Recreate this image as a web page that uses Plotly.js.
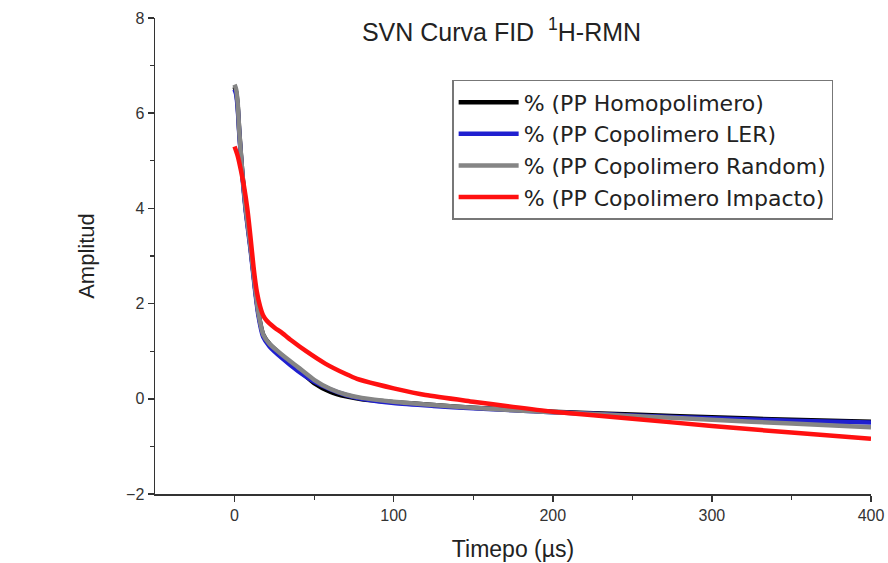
<!DOCTYPE html>
<html>
<head>
<meta charset="utf-8">
<script src="https://cdn.plot.ly/plotly-3.0.1.min.js"></script>
<style>html,body{margin:0;padding:0;background:#fff;}#chart{width:888px;height:563px;}</style>
</head>
<body>
<div id="chart"></div>
<script>
// Series names
const seriesNames = ["% (PP Homopolimero)", "% (PP Copolimero LER)", "% (PP Copolimero Random)", "% (PP Copolimero Impacto)"];

// Time (µs) and amplitude values
const tHomo = [0, 1, 2, 3, 5, 7, 10, 13, 15, 18, 22, 30, 40, 50, 60, 70, 80, 100, 125, 150, 175, 200, 250, 300, 350, 400];
const aHomo = [6.55, 6.45, 6.15, 5.6, 4.7, 4.0, 3.2, 2.3, 1.8, 1.35, 1.15, 0.9, 0.62, 0.33, 0.15, 0.05, -0.01, -0.07, -0.13, -0.19, -0.23, -0.27, -0.33, -0.39, -0.44, -0.48];

const tLER = [0, 1, 2, 3, 5, 7, 10, 13, 15, 18, 22, 30, 40, 50, 60, 70, 80, 100, 125, 150, 175, 200, 250, 300, 350, 400];
const aLER = [6.5, 6.4, 6.1, 5.55, 4.65, 3.95, 3.15, 2.25, 1.75, 1.3, 1.1, 0.85, 0.58, 0.36, 0.2, 0.08, 0.0, -0.09, -0.15, -0.2, -0.24, -0.28, -0.35, -0.41, -0.46, -0.5];

const tRandom = [0, 1, 2, 3, 5, 7, 10, 13, 15, 18, 22, 30, 40, 50, 60, 70, 80, 100, 125, 150, 175, 200, 250, 300, 350, 400];
const aRandom = [6.6, 6.5, 6.2, 5.6, 4.7, 4.0, 3.2, 2.3, 1.8, 1.35, 1.15, 0.92, 0.66, 0.4, 0.21, 0.09, 0.02, -0.06, -0.13, -0.19, -0.24, -0.28, -0.36, -0.44, -0.52, -0.6];

const tImpacto = [0, 2, 4, 6, 8, 10, 12, 14, 16, 18, 20, 25, 30, 36, 45, 57, 70, 77, 90, 100, 120, 150, 175, 200, 250, 300, 350, 400];
const aImpacto = [5.3, 5.1, 4.8, 4.45, 4.0, 3.4, 2.75, 2.25, 1.95, 1.75, 1.65, 1.5, 1.38, 1.22, 1.0, 0.74, 0.52, 0.42, 0.3, 0.22, 0.08, -0.06, -0.17, -0.27, -0.42, -0.57, -0.71, -0.84];

const colors = ["#000000", "#1f1fd0", "#858585", "#ff1010"];

const xs = [tHomo, tLER, tRandom, tImpacto];
const ys = [aHomo, aLER, aRandom, aImpacto];

const traces = xs.map((x, i) => ({
  type: "scatter",
  mode: "lines",
  x: x,
  y: ys[i],
  name: seriesNames[i],
  line: {color: colors[i], width: 4.5, shape: "spline", smoothing: 0.6}
}));

const fontFam = "Liberation Sans, Arial, sans-serif";

const layout = {
  width: 888,
  height: 563,
  margin: {l: 155, r: 17, t: 18, b: 69},
  paper_bgcolor: "#ffffff",
  plot_bgcolor: "#ffffff",
  font: {family: fontFam, color: "#222"},
  title: {
    text: "SVN Curva FID  <sup>1</sup>H-RMN",
    font: {size: 25, family: fontFam, color: "#222"},
    x: 0.484, xref: "paper", xanchor: "center",
    y: 0.943, yref: "container", yanchor: "middle"
  },
  xaxis: {
    range: [-50, 400],
    tickvals: [0, 100, 200, 300, 400],
    ticks: "outside", ticklen: 6, tickwidth: 1.5, tickcolor: "#333",
    minor: {tickvals: [50, 150, 250, 350], ticks: "outside", ticklen: 4, tickcolor: "#333", tickwidth: 1.2},
    showline: true, linecolor: "#333", linewidth: 1.5,
    showgrid: false, zeroline: false,
    tickfont: {size: 16, color: "#333"},
    title: {text: "Timepo (µs)", font: {size: 23, color: "#222"}, standoff: 18}
  },
  yaxis: {
    range: [-2, 8],
    tickvals: [-2, 0, 2, 4, 6, 8],
    ticks: "outside", ticklen: 6, tickwidth: 1.5, tickcolor: "#333",
    minor: {tickvals: [-1, 1, 3, 5, 7], ticks: "outside", ticklen: 4, tickcolor: "#333", tickwidth: 1.2},
    showline: true, linecolor: "#333", linewidth: 1.5,
    showgrid: false, zeroline: false,
    tickfont: {size: 16, color: "#333"},
    title: {text: "Amplitud", font: {size: 22, color: "#222"}, standoff: 25}
  },
  showlegend: true,
  legend: {
    x: 0.415, y: 0.87, xanchor: "left", yanchor: "top",
    bgcolor: "#ffffff", bordercolor: "#777", borderwidth: 1.5,
    font: {size: 22, family: "DejaVu Sans, sans-serif", color: "#222"},
    tracegroupgap: 0, itemwidth: 60
  }
};

Plotly.newPlot("chart", traces, layout, {displayModeBar: false, staticPlot: true});
</script>
</body>
</html>
